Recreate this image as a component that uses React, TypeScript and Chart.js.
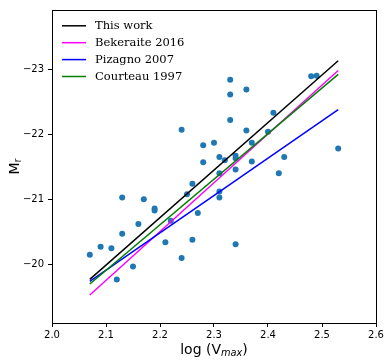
import React, { useEffect, useRef } from "react";
import { Chart, registerables } from "chart.js";

Chart.register(...registerables);

// Galaxy sample (scatter)
const sampleLogV = [
  2.07, 2.09, 2.11, 2.13, 2.13, 2.12, 2.15, 2.16, 2.17, 2.19, 2.19, 2.22, 2.21, 2.24, 2.26,
  2.26, 2.25, 2.27, 2.24, 2.28, 2.3, 2.28, 2.31, 2.32, 2.34, 2.34, 2.37, 2.37, 2.34, 2.31,
  2.31, 2.31, 2.34, 2.33, 2.33, 2.36, 2.33, 2.41, 2.36, 2.4, 2.48, 2.49, 2.53, 2.43, 2.42,
];
const sampleMr = [
  -20.15, -20.27, -20.25, -21.03, -20.47, -19.77, -19.97, -20.62, -21.0, -20.86, -20.83, -20.67, -20.34, -20.1, -20.38,
  -21.24, -21.08, -20.79, -22.07, -21.83, -21.87, -21.57, -21.65, -21.6, -21.67, -21.63, -21.87, -21.58, -21.46, -21.4,
  -21.12, -21.03, -20.31, -22.84, -22.61, -22.69, -22.22, -22.33, -22.06, -22.04, -22.89, -22.9, -21.78, -21.65, -21.4,
];

// Tully-Fisher relations (endpoints)
const fitX = [2.07, 2.53];
const thisWork = [-19.77, -23.13];
const bekeraite2016 = [-19.53, -22.98];
const pizagno2007 = [-19.74, -22.38];
const courteau1997 = [-19.7, -22.92];

const lineLabels = ["This work", "Bekeraite 2016", "Pizagno 2007", "Courteau 1997"];
const lineSeries = [thisWork, bekeraite2016, pizagno2007, courteau1997];
const lineColors = ["#000000", "#ff00ff", "#0000ff", "#008000"];

const xTicks = [2.0, 2.1, 2.2, 2.3, 2.4, 2.5, 2.6];
const yTicks = [-23, -22, -21, -20];

const SANS = '"DejaVu Sans", sans-serif';
const SERIF = '"DejaVu Serif", serif';

const overlayPlugin = {
  id: "overlay",
  afterDraw(chart: any) {
    const { ctx, chartArea: a } = chart;
    ctx.save();
    // frame
    ctx.strokeStyle = "#000";
    ctx.lineWidth = 1;
    ctx.strokeRect(Math.round(a.left) + 0.5, Math.round(a.top) + 0.5, Math.round(a.right - a.left), Math.round(a.bottom - a.top));

    // legend
    ctx.font = `11.5px ${SERIF}`;
    ctx.textBaseline = "middle";
    ctx.textAlign = "left";
    for (let i = 0; i < lineLabels.length; i++) {
      const y = a.top + 15.8 + i * 16.9;
      ctx.strokeStyle = lineColors[i];
      ctx.lineWidth = 1.5;
      ctx.beginPath();
      ctx.moveTo(a.left + 10, y);
      ctx.lineTo(a.left + 34, y);
      ctx.stroke();
      ctx.fillStyle = "#000";
      ctx.fillText(lineLabels[i], a.left + 43, y + 0.5);
    }

    // x title: log (V_max)
    const parts = [
      { t: "log (V", f: `14px ${SANS}`, dy: 0 },
      { t: "max", f: `italic 9.8px ${SANS}`, dy: 2.5 },
      { t: ")", f: `14px ${SANS}`, dy: 0 },
    ];
    let total = 0;
    for (const p of parts) {
      ctx.font = p.f;
      total += ctx.measureText(p.t).width;
    }
    let x = (a.left + a.right) / 2 - total / 2;
    const base = 353.5;
    ctx.textBaseline = "alphabetic";
    ctx.fillStyle = "#000";
    for (const p of parts) {
      ctx.font = p.f;
      ctx.fillText(p.t, x, base + p.dy);
      x += ctx.measureText(p.t).width;
    }

    // y title: M_r (rotated)
    const yparts = [
      { t: "M", f: `14px ${SANS}`, dy: 0 },
      { t: "r", f: `9.8px ${SANS}`, dy: 2.5 },
    ];
    let ytotal = 0;
    for (const p of yparts) {
      ctx.font = p.f;
      ytotal += ctx.measureText(p.t).width;
    }
    ctx.translate(18.5, (a.top + a.bottom) / 2);
    ctx.rotate(-Math.PI / 2);
    let yx = -ytotal / 2;
    for (const p of yparts) {
      ctx.font = p.f;
      ctx.fillText(p.t, yx, p.dy);
      yx += ctx.measureText(p.t).width;
    }
    ctx.restore();
  },
};

export default function App() {
  const ref = useRef<HTMLCanvasElement | null>(null);

  useEffect(() => {
    document.body.style.margin = "0";
    const canvas = ref.current;
    if (!canvas) return;

    const datasets: any[] = [
      {
        type: "scatter",
        label: "data",
        data: sampleLogV.map((v, i) => ({ x: v, y: sampleMr[i] })),
        backgroundColor: "#1f77b4",
        borderWidth: 0,
        pointRadius: 3,
        pointHoverRadius: 3,
        order: 10,
      },
      ...lineSeries.map((s, i) => ({
        type: "line",
        label: lineLabels[i],
        data: fitX.map((v, j) => ({ x: v, y: s[j] })),
        borderColor: lineColors[i],
        backgroundColor: lineColors[i],
        borderWidth: 1.5,
        pointRadius: 0,
        fill: false,
        tension: 0,
        order: 4 - i,
      })),
    ];

    const chart = new Chart(canvas, {
      type: "scatter",
      data: { datasets },
      options: {
        animation: false,
        responsive: false,
        devicePixelRatio: 1,
        layout: { padding: { top: 7, right: 15, left: 0, bottom: 0 } },
        plugins: { legend: { display: false }, tooltip: { enabled: false } },
        scales: {
          x: {
            type: "linear",
            min: 2.0,
            max: 2.6,
            afterBuildTicks: (scale: any) => {
              scale.ticks = xTicks.map((v) => ({ value: v }));
            },
            afterFit: (scale: any) => {
              scale.height = 41;
            },
            ticks: {
              color: "#000",
              font: { family: SANS, size: 10 },
              padding: 2,
              maxRotation: 0,
              autoSkip: false,
              callback: (v: any) => Number(v).toFixed(1),
            },
            grid: { drawOnChartArea: false, drawTicks: true, tickLength: 4, tickColor: "#000", color: "#000" },
            border: { display: false },
          },
          y: {
            type: "linear",
            reverse: true,
            min: -23.91,
            max: -19.1,
            afterBuildTicks: (scale: any) => {
              scale.ticks = yTicks.map((v) => ({ value: v }));
            },
            afterFit: (scale: any) => {
              scale.width = 52;
            },
            ticks: {
              color: "#000",
              font: { family: SANS, size: 10 },
              padding: 4,
              autoSkip: false,
              callback: (v: any) => String(v).replace("-", "\u2212"),
            },
            grid: { drawOnChartArea: false, drawTicks: true, tickLength: 4, tickColor: "#000", color: "#000" },
            border: { display: false },
          },
        },
      },
      plugins: [overlayPlugin],
    });

    return () => chart.destroy();
  }, []);

  return (
    <div style={{ position: "fixed", left: 0, top: 0, width: 391, height: 364, background: "#fff" }}>
      <canvas ref={ref} width={391} height={364} style={{ display: "block" }} />
    </div>
  );
}
